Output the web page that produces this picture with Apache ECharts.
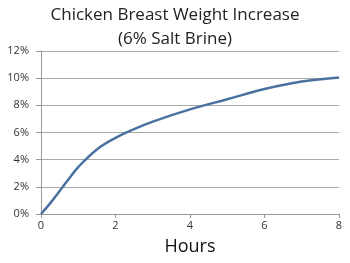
<!DOCTYPE html>
<html><head><meta charset="utf-8">
<script src="https://cdn.jsdelivr.net/npm/echarts@6/dist/echarts.min.js"></script>
<style>html,body{margin:0;padding:0;background:#fff}#c{width:350px;height:263px}</style>
</head><body><div id="c"></div>
<script>
var hours = [0, 0.25, 0.5, 0.75, 1, 1.5, 2, 2.5, 3, 4, 5, 6, 7, 8];
var weightIncrease = [0, 0.8, 1.7, 2.6, 3.45, 4.75, 5.6, 6.25, 6.8, 7.7, 8.45, 9.2, 9.75, 10.05];
var xTicks = [0, 2, 4, 6, 8];
var yTicks = [0, 2, 4, 6, 8, 10, 12];
var titleText = 'Chicken Breast Weight Increase\n(6% Salt Brine)';
var xName = 'Hours';

var chart = echarts.init(document.getElementById('c'), null, {renderer: 'canvas'});
chart.setOption({
  animation: false,
  title: {
    text: titleText, left: 175, top: 3, textAlign: 'center', padding: 0,
    textStyle: {fontFamily: 'Open Sans', fontSize: 17, fontWeight: 'normal', color: '#222', lineHeight: 24}
  },
  grid: {left: 41, right: 11, top: 51, bottom: 49},
  xAxis: {
    type: 'value', min: 0, max: 8, interval: 2,
    name: xName, nameLocation: 'middle', nameGap: 24,
    nameTextStyle: {fontFamily: 'Open Sans', fontSize: 18, color: '#111'},
    axisLine: {lineStyle: {color: '#999'}},
    axisTick: {show: true, length: 4, lineStyle: {color: '#999'}},
    axisLabel: {fontFamily: 'Open Sans', fontSize: 11, color: '#333', margin: 6},
    splitLine: {show: false}
  },
  yAxis: {
    type: 'value', min: 0, max: 12, interval: 2,
    axisLine: {show: true, lineStyle: {color: '#999'}},
    axisTick: {show: true, length: 5, lineStyle: {color: '#999'}},
    axisLabel: {fontFamily: 'Open Sans', fontSize: 11, color: '#333', margin: 12, formatter: '{value}%'},
    splitLine: {lineStyle: {color: '#aaa', width: 1}}
  },
  series: [{
    type: 'line', smooth: 0.4, showSymbol: false,
    data: hours.map(function(h, i){ return [h, weightIncrease[i]]; }),
    lineStyle: {color: '#4a72a0', width: 2.5}
  }]
});
</script></body></html>
